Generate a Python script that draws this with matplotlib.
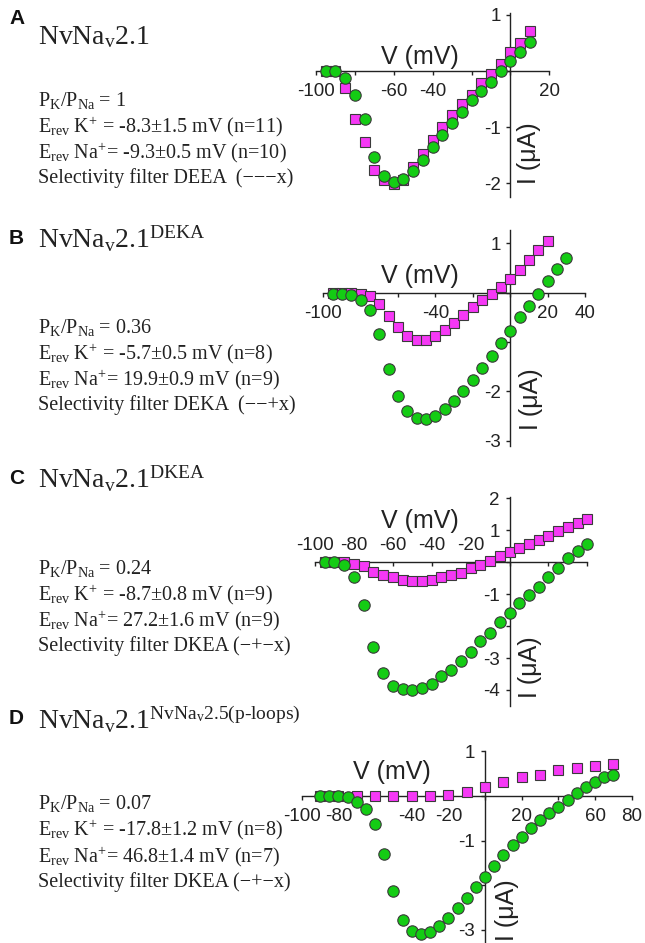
import matplotlib
matplotlib.use('Agg')
import matplotlib.pyplot as plt
from matplotlib.ticker import FixedLocator, FixedFormatter

W, H = 645, 943

plt.rcParams['font.family'] = ['Liberation Sans', 'DejaVu Sans']
plt.rcParams['mathtext.fontset'] = 'custom'
plt.rcParams['mathtext.rm'] = 'Liberation Serif'
plt.rcParams['mathtext.it'] = 'Liberation Serif:italic'
plt.rcParams['mathtext.bf'] = 'Liberation Serif:bold'

SQ_COLOR = '#f538f5'
CI_COLOR = '#14cc14'
EDGE = '#3a3a3a'

# Panel A: NvNav2.1
a_sq_v = [-95, -90, -85, -80, -75, -70, -65, -60, -55, -50, -45, -40, -35, -30,
          -25, -20, -15, -10, -5, 0, 5, 10]
a_sq_i = [0, 0, -0.31, -0.85, -1.26, -1.77, -1.95, -2.02, -1.95, -1.72, -1.48,
          -1.23, -1.0, -0.79, -0.59, -0.42, -0.22, -0.05, 0.12, 0.33, 0.5, 0.72]
a_ci_v = a_sq_v
a_ci_i = [0, 0, -0.13, -0.42, -0.86, -1.53, -1.88, -1.98, -1.93, -1.78, -1.59,
          -1.35, -1.14, -0.93, -0.73, -0.52, -0.35, -0.19, 0.0, 0.17, 0.33, 0.52]

# Panel B: DEKA
b_sq_v = [-95, -90, -85, -80, -75, -70, -65, -60, -55, -50, -45, -40, -35, -30,
          -25, -20, -15, -10, -5, 0, 5, 10, 15, 20]
b_sq_i = [0, 0, 0, -0.02, -0.06, -0.22, -0.48, -0.7, -0.88, -0.96, -0.96, -0.88,
          -0.76, -0.61, -0.45, -0.30, -0.15, -0.03, 0.11, 0.27, 0.46, 0.66, 0.86, 1.05]
b_ci_v = [-95, -90, -85, -80, -75, -70, -65, -60, -55, -50, -45, -40, -35, -30,
          -25, -20, -15, -10, -5, 0, 5, 10, 15, 20, 25, 30]
b_ci_i = [-0.03, -0.03, -0.05, -0.15, -0.35, -0.84, -1.55, -2.09, -2.41, -2.55,
          -2.57, -2.5, -2.36, -2.19, -1.99, -1.77, -1.53, -1.28, -1.03, -0.78,
          -0.5, -0.26, -0.03, 0.24, 0.49, 0.70]

# Panel C: DKEA
c_sq_v = [-95, -90, -85, -80, -75, -70, -65, -60, -55, -50, -45, -40, -35, -30,
          -25, -20, -15, -10, -5, 0, 5, 10, 15, 20, 25, 30, 35, 40]
c_sq_i = [0, 0, 0, -0.05, -0.13, -0.29, -0.4, -0.47, -0.54, -0.58, -0.58, -0.54,
          -0.47, -0.4, -0.32, -0.19, -0.08, 0.05, 0.2, 0.31, 0.44, 0.57, 0.7,
          0.81, 0.97, 1.1, 1.23, 1.37]
c_ci_v = c_sq_v
c_ci_i = [0, 0, -0.08, -0.47, -1.35, -2.66, -3.47, -3.87, -3.97, -4.0, -3.93,
          -3.8, -3.56, -3.38, -3.1, -2.82, -2.48, -2.21, -1.87, -1.59, -1.29,
          -1.01, -0.77, -0.45, -0.19, 0.13, 0.34, 0.57]

# Panel D: NvNav2.5 p-loops
d_sq_v = [-90, -80, -70, -60, -50, -40, -30, -20, -10, 0, 10, 20, 30, 40, 50, 60, 70]
d_sq_i = [0, 0, 0, 0, 0, 0, 0, 0.02, 0.1, 0.21, 0.32, 0.42, 0.47, 0.59, 0.62,
          0.68, 0.72]
d_ci_v = [-90, -85, -80, -75, -70, -65, -60, -55, -50, -45, -40, -35, -30, -25,
          -20, -15, -10, -5, 0, 5, 10, 15, 20, 25, 30, 35, 40, 45, 50, 55, 60,
          65, 70]
d_ci_i = [0, 0, 0, -0.03, -0.13, -0.3, -0.63, -1.31, -2.14, -2.78, -3.02, -3.1,
          -3.06, -2.91, -2.74, -2.5, -2.29, -2.05, -1.82, -1.56, -1.32, -1.09,
          -0.92, -0.71, -0.54, -0.39, -0.24, -0.08, 0.06, 0.21, 0.32, 0.42, 0.46]

fig = plt.figure(figsize=(W / 100, H / 100), dpi=100)


def fx(x):
    return x / W


def fy(y):
    return 1 - y / H


def iv_panel(box, xlim, ylim, xticks, xlabels, yticks, ylabels, sq, ci,
             labels_top=False):
    left, right, top, bottom = box
    ax = fig.add_axes([fx(left), fy(bottom), (right - left) / W, (bottom - top) / H])
    ax.set_xlim(*xlim)
    ax.set_ylim(*ylim)
    ax.patch.set_alpha(0)
    xsp = 'top' if labels_top else 'bottom'
    for side in ['top', 'bottom', 'right']:
        if side != xsp:
            ax.spines[side].set_visible(False)
    ax.spines[xsp].set_position(('data', 0))
    ax.spines['left'].set_position(('data', 0))
    for side in [xsp, 'left']:
        ax.spines[side].set_linewidth(1.0)
        ax.spines[side].set_color('#222222')
    ax.xaxis.set_ticks_position(xsp)
    ax.yaxis.set_ticks_position('left')
    ax.xaxis.set_major_locator(FixedLocator(xticks))
    ax.xaxis.set_major_formatter(FixedFormatter(xlabels))
    ax.yaxis.set_major_locator(FixedLocator(yticks))
    ax.yaxis.set_major_formatter(FixedFormatter(ylabels))
    ax.tick_params(axis='x', direction='in' if labels_top else 'out',
                   length=3, width=1.0, pad=6, labelsize=13.5, colors='#222222')
    ax.tick_params(axis='y', direction='out', length=3, width=1.0, pad=4,
                   labelsize=13.5, colors='#222222')
    ax.plot(sq[0], sq[1], 's', ms=7.6, mfc=SQ_COLOR, mec=EDGE, mew=0.8,
            clip_on=False, zorder=3)
    ax.plot(ci[0], ci[1], 'o', ms=8.2, mfc=CI_COLOR, mec=EDGE, mew=0.8,
            clip_on=False, zorder=4)
    return ax


xt = [-100, -80, -60, -40, -20, 0, 20, 40, 60, 80]

iv_panel((316, 549.3, 13.2, 197.2), (-100, 20), (-2.25, 1.03),
         xt[:7], ['-100', '', '-60', '-40', '', '', '20'],
         [1, 0, -1, -2], ['1', '', '-1', '-2'],
         (a_sq_v, a_sq_i), (a_ci_v, a_ci_i))

iv_panel((323.3, 585, 230.1, 445.5), (-100, 40), (-3.1, 1.27),
         xt[:8], ['-100', '', '', '-40', '', '', '20', '40'],
         [1, 0, -1, -2, -3], ['1', '', '', '-2', '-3'],
         (b_sq_v, b_sq_i), (b_ci_v, b_ci_i))

iv_panel((315, 587.3, 496.9, 705.9), (-100, 40), (-4.5, 2.05),
         xt[:8], ['-100', '-80', '-60', '-40', '-20', '', '', ''],
         [2, 1, 0, -1, -2, -3, -4], ['2', '1', '', '-1', '', '-3', '-4'],
         (c_sq_v, c_sq_i), (c_ci_v, c_ci_i), labels_top=True)

iv_panel((301.7, 631.7, 750.5, 943.2), (-100, 80), (-3.3, 1.02),
         xt, ['-100', '-80', '', '-40', '-20', '', '20', '', '60', '80'],
         [1, 0, -1, -2, -3], ['1', '', '-1', '', '-3'],
         (d_sq_v, d_sq_i), (d_ci_v, d_ci_i))

# axis titles
for x, y in [(420, 64), (420, 283), (420, 528), (392, 779)]:
    fig.text(fx(x), fy(y), 'V (mV)', ha='center', va='baseline', fontsize=18,
             color='#222222')
for x, y in [(529, 153), (531, 399), (530, 667), (507, 910)]:
    fig.text(fx(x), fy(y), 'I (\u03bcA)', ha='center', va='center', fontsize=18,
             rotation=90, color='#222222')

# panel titles and notes
titles = [
    ('A', r'NvNa$_\mathrm{v}$2.1', 18, 44),
    ('B', r'NvNa$_\mathrm{v}$2.1$^\mathrm{DEKA}$', 238, 248),
    ('C', r'NvNa$_\mathrm{v}$2.1$^\mathrm{DKEA}$', 478, 488),
    ('D', r'NvNa$_\mathrm{v}$2.1$^{\mathrm{NvNa}_\mathrm{v}\mathrm{2.5(p}\text{-}\mathrm{loops)}}$', 718, 728),
]
for letter, title, ly, ty in titles:
    fig.text(fx(9), fy(ly), letter, ha='left', va='center', fontsize=15,
             fontweight='bold', color='#111111')
    fig.text(fx(38), fy(ty), title, ha='left', va='baseline', fontsize=20,
             family='Liberation Serif', color='#222222')

KP = r'$^{\mathrm{+}}$'
notes = [
    ([r'P$_\mathrm{K}$/P$_\mathrm{Na}$ = 1',
      r'E$_\mathrm{rev}$ K' + KP + ' = -8.3±1.5 mV (n=11)',
      r'E$_\mathrm{rev}$ Na' + KP + '= -9.3±0.5 mV (n=10)',
      'Selectivity filter DEEA  (\u2212\u2212\u2212x)'], [106, 132, 158, 183]),
    ([r'P$_\mathrm{K}$/P$_\mathrm{Na}$ = 0.36',
      r'E$_\mathrm{rev}$ K' + KP + ' = -5.7±0.5 mV (n=8)',
      r'E$_\mathrm{rev}$ Na' + KP + '= 19.9±0.9 mV (n=9)',
      'Selectivity filter DEKA  (\u2212\u2212+x)'], [333, 359, 385, 410]),
    ([r'P$_\mathrm{K}$/P$_\mathrm{Na}$ = 0.24',
      r'E$_\mathrm{rev}$ K' + KP + ' = -8.7±0.8 mV (n=9)',
      r'E$_\mathrm{rev}$ Na' + KP + '= 27.2±1.6 mV (n=9)',
      'Selectivity filter DKEA (\u2212+\u2212x)'], [574, 600, 626, 651]),
    ([r'P$_\mathrm{K}$/P$_\mathrm{Na}$ = 0.07',
      r'E$_\mathrm{rev}$ K' + KP + ' = -17.8±1.2 mV (n=8)',
      r'E$_\mathrm{rev}$ Na' + KP + '= 46.8±1.4 mV (n=7)',
      'Selectivity filter DKEA (\u2212+\u2212x)'], [809, 835, 862, 887]),
]
for lines, ys in notes:
    for line, y in zip(lines, ys):
        fig.text(fx(38), fy(y), line, ha='left', va='baseline', fontsize=14.5,
                 family='Liberation Serif', color='#222222')

fig.savefig('out.png', dpi=100)
